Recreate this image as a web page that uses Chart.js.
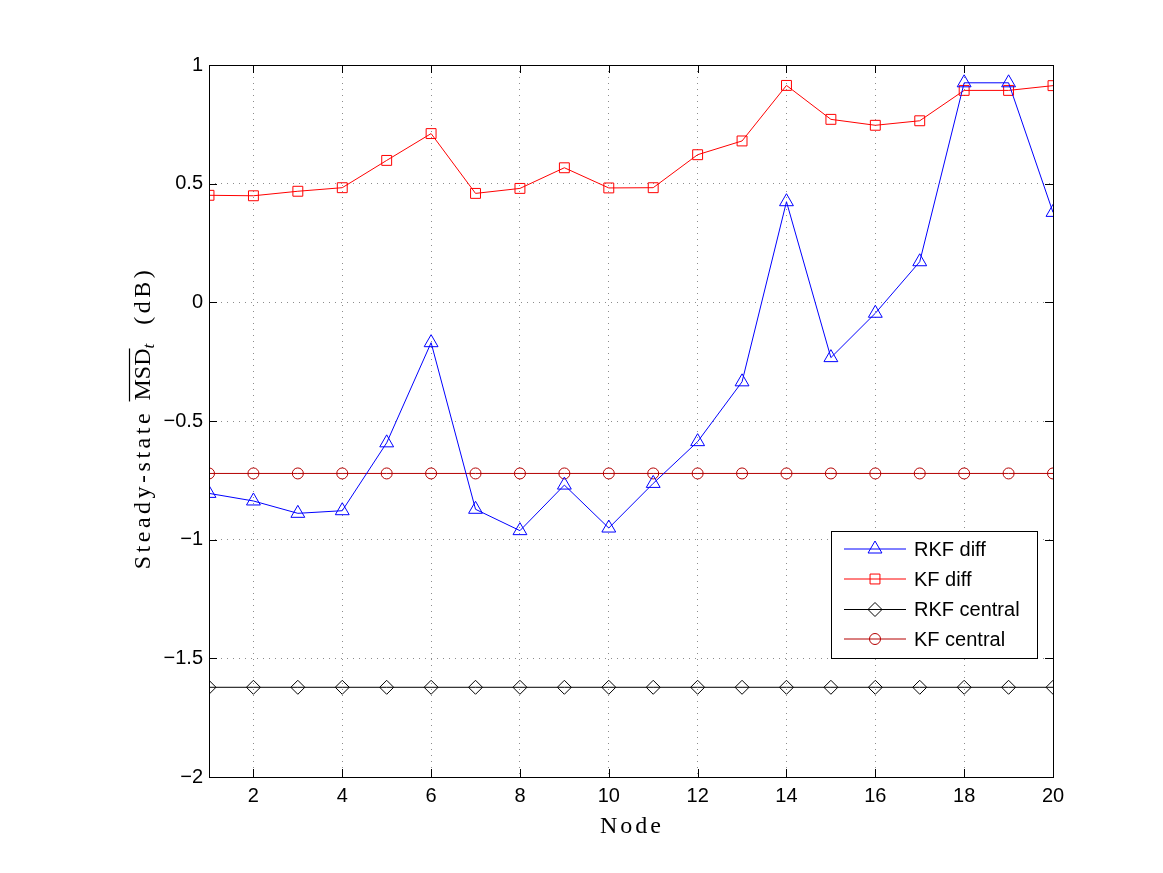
<!DOCTYPE html>
<html>
<head>
<meta charset="utf-8">
<script src="https://cdn.jsdelivr.net/npm/chart.js@4"></script>
<style>
html,body{margin:0;padding:0;background:#fff;}
#wrap{width:1163px;height:873px;}
</style>
</head>
<body>
<div id="wrap"><canvas id="c" width="1163" height="873"></canvas></div>
<script>
const nodes = [1,2,3,4,5,6,7,8,9,10,11,12,13,14,15,16,17,18,19,20];
const rkfDiff = [-0.805,-0.837,-0.889,-0.878,-0.592,-0.170,-0.872,-0.962,-0.770,-0.951,-0.763,-0.587,-0.335,0.424,-0.233,-0.046,0.171,0.925,0.925,0.379];
const kfDiff = [0.451,0.449,0.468,0.483,0.598,0.711,0.459,0.480,0.567,0.482,0.483,0.622,0.680,0.914,0.771,0.746,0.765,0.893,0.893,0.913];
const rkfCentral = [-1.622,-1.622,-1.622,-1.622,-1.622,-1.622,-1.622,-1.622,-1.622,-1.622,-1.622,-1.622,-1.622,-1.622,-1.622,-1.622,-1.622,-1.622,-1.622,-1.622];
const kfCentral = [-0.721,-0.721,-0.721,-0.721,-0.721,-0.721,-0.721,-0.721,-0.721,-0.721,-0.721,-0.721,-0.721,-0.721,-0.721,-0.721,-0.721,-0.721,-0.721,-0.721];
const xTicks = [2,4,6,8,10,12,14,16,18,20];
const yTicks = [-2,-1.5,-1,-0.5,0,0.5,1];
const seriesNames = ['RKF diff','KF diff','RKF central','KF central'];
const xTitle = 'Node';

const pts = arr => nodes.map((n,i)=>({x:n,y:arr[i]}));
const styles = [
  {color:'#0000ff', pointStyle:'triangle', r:8},
  {color:'#ff0000', pointStyle:'rect', r:7},
  {color:'#000000', pointStyle:'rectRot', r:7},
  {color:'#b40000', pointStyle:'circle', r:5.5}
];
const series = [rkfDiff,kfDiff,rkfCentral,kfCentral];
const datasets = series.map((s,i)=>({
  label: seriesNames[i],
  data: pts(s),
  borderColor: styles[i].color,
  backgroundColor: 'rgba(0,0,0,0)',
  borderWidth: 1,
  pointStyle: styles[i].pointStyle,
  pointRadius: styles[i].r,
  pointHoverRadius: styles[i].r,
  pointBorderColor: styles[i].color,
  pointBackgroundColor: 'rgba(0,0,0,0)',
  pointBorderWidth: 1,
  tension: 0
}));

const fmt = v => (v<0?'\u2212':'') + String(Math.abs(v));

const deco = {
  id:'deco',
  afterDatasetsDraw(chart){
    const ctx = chart.ctx, a = chart.chartArea;
    const xs = chart.scales.x, ys = chart.scales.y;
    ctx.save();
    ctx.strokeStyle = '#000'; ctx.lineWidth = 1;
    ctx.strokeRect(Math.round(a.left)+0.5, Math.round(a.top)+0.5, Math.round(a.right-a.left), Math.round(a.bottom-a.top));
    const L = 8;
    ctx.beginPath();
    xTicks.forEach(v=>{
      const px = Math.round(xs.getPixelForValue(v))+0.5;
      ctx.moveTo(px,a.bottom); ctx.lineTo(px,a.bottom-L);
      ctx.moveTo(px,a.top); ctx.lineTo(px,a.top+L);
    });
    yTicks.forEach(v=>{
      const py = Math.round(ys.getPixelForValue(v))+0.5;
      ctx.moveTo(a.left,py); ctx.lineTo(a.left+L,py);
      ctx.moveTo(a.right,py); ctx.lineTo(a.right-L,py);
    });
    ctx.stroke();

    // x title
    ctx.fillStyle = '#000';
    ctx.font = '24px "Liberation Serif"';
    ctx.letterSpacing = '3px';
    ctx.textAlign = 'center'; ctx.textBaseline = 'alphabetic';
    ctx.fillText(xTitle, (a.left+a.right)/2 + 1, 833);

    // y title
    ctx.save();
    ctx.translate(150, 418);
    ctx.rotate(-Math.PI/2);
    ctx.textAlign = 'left';
    const f1 = '24px "Liberation Serif"';
    const parts = [
      {t:'Steady-state ', font:f1, sp:'3.5px', dy:0},
      {t:'MSD', font:f1, sp:'0px', dy:0, over:true},
      {t:'t', font:'italic 17px "Liberation Serif"', sp:'0px', dy:4},
      {t:'  (dB)', font:f1, sp:'3.5px', dy:0}
    ];
    let total = 0;
    parts.forEach(p=>{ctx.font=p.font; ctx.letterSpacing=p.sp; p.w = ctx.measureText(p.t).width; total+=p.w;});
    let x = -total/2;
    parts.forEach(p=>{
      ctx.font=p.font; ctx.letterSpacing=p.sp;
      ctx.fillText(p.t, x, p.dy);
      if(p.over){
        ctx.beginPath(); ctx.lineWidth=1.2;
        ctx.moveTo(x-1, -20.5); ctx.lineTo(x+p.w, -20.5); ctx.stroke();
      }
      x += p.w;
    });
    ctx.restore();

    // legend
    ctx.letterSpacing = '0px';
    const bx = 831.5, by = 531.5, bw = 206, bh = 127;
    ctx.fillStyle = '#fff';
    ctx.fillRect(bx,by,bw,bh);
    ctx.strokeStyle = '#000'; ctx.lineWidth = 1;
    ctx.strokeRect(bx,by,bw,bh);
    const rows = [549,579,609.5,639];
    ctx.font = '20px "Liberation Sans"';
    ctx.textAlign = 'left'; ctx.textBaseline = 'middle';
    chart.data.datasets.forEach((d,i)=>{
      const y = rows[i];
      ctx.strokeStyle = d.borderColor; ctx.lineWidth = 1;
      ctx.beginPath(); ctx.moveTo(844,y); ctx.lineTo(906,y); ctx.stroke();
      ctx.fillStyle = 'rgba(0,0,0,0)';
      Chart.helpers.drawPoint(ctx, {pointStyle:d.pointStyle, rotation:0, radius:d.pointRadius, borderWidth:1}, 875, y);
      ctx.fillStyle = '#000';
      ctx.fillText(d.label, 914, y+1);
    });
    ctx.restore();
  }
};

new Chart(document.getElementById('c'), {
  type:'line',
  data:{datasets},
  options:{
    responsive:false,
    animation:false,
    events:[],
    layout:{padding:{left:0,right:110,top:65,bottom:0}},
    plugins:{legend:{display:false}, tooltip:{enabled:false}},
    scales:{
      x:{
        type:'linear', min:1, max:20,
        afterBuildTicks: s => { s.ticks = xTicks.map(v=>({value:v})); },
        afterFit: s => { s.height = 96; },
        grid:{color:'#8c8c8c', lineWidth:1, drawTicks:false},
        border:{display:false, dash:[1,5]},
        ticks:{padding:7, color:'#000', font:{family:'Liberation Sans', size:20}, maxRotation:0, autoSkip:false, callback:v=>String(v)}
      },
      y:{
        type:'linear', min:-2, max:1,
        afterBuildTicks: s => { s.ticks = yTicks.map(v=>({value:v})); },
        afterFit: s => { s.width = 209; },
        grid:{color:'#8c8c8c', lineWidth:1, drawTicks:false},
        border:{display:false, dash:[1,5]},
        ticks:{padding:6, color:'#000', font:{family:'Liberation Sans', size:20}, autoSkip:false, callback:v=>fmt(v)}
      }
    }
  },
  plugins:[deco]
});
</script>
</body>
</html>
